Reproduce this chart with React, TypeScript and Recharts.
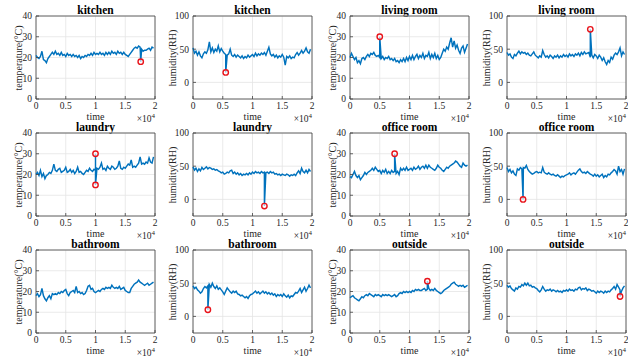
import { ComposedChart, Line, XAxis, YAxis, CartesianGrid, ReferenceArea, ReferenceDot } from 'recharts';

// sample readings, one every 250 time steps
const kitchenTemp = [21, 20, 19.5, 20.5, 23, 19, 18.5, 17.5, 19.5, 20.5, 21.5, 22.5, 21.5, 23, 21.5, 22, 21, 22.5, 21, 21.5, 20.5, 22, 21, 21.5, 20.5, 21.5, 20.5, 21, 20, 21, 19.5, 20.5, 20, 21, 20.5, 21.5, 21, 22, 21, 22.5, 21.5, 22, 21.5, 22.5, 21.5, 22, 21, 22.5, 21.5, 22.5, 21.5, 23, 22, 22.5, 21.5, 23, 22, 22.5, 21.5, 22.5, 21.5, 21, 20.5, 21.5, 22.5, 23.5, 24.5, 25, 24.5, 25.5, 25, 24, 23, 23.5, 23.5, 24, 24.5, 23.5, 25, 24.5];
const kitchenHum = [52, 44, 47, 41, 46, 40, 37, 43, 46, 44, 49, 61, 46, 52, 45, 50, 47, 55, 46, 51, 47, 44, 42, 41, 43, 50, 41, 39, 42, 38, 41, 39, 37, 40, 36, 39, 37, 41, 38, 40, 42, 39, 44, 40, 43, 41, 44, 42, 45, 41, 47, 53, 43, 40, 42, 38, 41, 37, 40, 38, 42, 38, 26, 39, 37, 40, 36, 38, 37, 42, 45, 41, 44, 48, 44, 47, 52, 46, 44, 50];
const livingTemp = [20, 22, 20.5, 19, 20, 17.5, 18.5, 17, 19.5, 20, 19, 20.5, 21.5, 20.5, 22, 21.5, 22.5, 21, 20.5, 21, 20, 19.5, 20.5, 19, 20, 19.5, 20.5, 19, 19.5, 18.5, 19.5, 18, 18.5, 17.5, 19, 18, 19.5, 18, 20, 18.5, 20.5, 19, 21, 19, 20.5, 21.5, 19.5, 21, 20, 22, 19.5, 21, 20.5, 22.5, 19.5, 21.5, 20, 22, 19.5, 21, 19, 20, 22, 24, 23, 25, 24, 27, 29.5, 25, 28, 24.5, 26, 23.5, 22, 24.5, 25.5, 22.5, 24.5, 26.5];
const livingHum = [45, 41, 43, 38, 36, 42, 40, 44, 47, 43, 46, 44, 45, 42, 44, 41, 40, 43, 46, 41, 39, 37, 40, 38, 48, 42, 38, 40, 37, 41, 39, 36, 40, 38, 41, 37, 40, 38, 42, 39, 41, 38, 43, 40, 42, 39, 43, 41, 44, 40, 45, 42, 46, 43, 44, 45, 38, 41, 37, 42, 40, 36, 41, 38, 33, 37, 31, 27, 33, 30, 38, 35, 41, 44, 42, 46, 52, 40, 46, 42];
const laundryTemp = [20, 21, 19.5, 22, 19, 20.5, 18, 19.5, 20, 21, 20.5, 22, 25, 22, 21.5, 22.5, 23, 21, 21.5, 22, 23.5, 21, 21.5, 22.5, 21, 22, 20.5, 21.5, 23.5, 21, 21.5, 20.5, 20, 21, 22, 21.5, 23, 22, 21.5, 22.5, 22, 23, 22.5, 23.5, 25.5, 22.5, 23, 22, 24, 23, 22.5, 24, 23.5, 22.5, 23, 24, 26.5, 23, 22.5, 23.5, 23, 24, 25, 24.5, 27, 23.5, 24, 23.5, 24.5, 25.5, 28.5, 25, 25.5, 25, 26, 25.5, 28, 26, 25.5, 28.5];
const laundryHum = [49, 44, 47, 42, 46, 43, 48, 45, 47, 49, 46, 48, 47, 45, 46, 44, 45, 43, 42, 40, 41, 38, 39, 41, 40, 43, 44, 39, 41, 38, 40, 37, 39, 36, 38, 37, 39, 37, 40, 38, 41, 39, 42, 40, 41, 39, 42, 40, 41, 40, 41, 39, 42, 40, 41, 38, 39, 37, 38, 36, 38, 37, 36, 38, 37, 35, 37, 36, 38, 36, 40, 43, 39, 47, 42, 40, 44, 40, 45, 42];
const officeTemp = [19, 18.5, 20, 21.5, 19.5, 18.5, 19.5, 17.5, 18.5, 19.5, 21, 20, 21, 21.5, 22, 23, 22, 23.5, 22.5, 21.5, 22, 20.5, 22, 21, 22.5, 20.5, 21.5, 20.5, 22, 21, 21.5, 20.5, 21.5, 20, 23, 22, 23, 22, 23.5, 22, 22.5, 23, 22, 23.5, 22.5, 23, 24, 22.5, 23.5, 24, 23, 24.5, 23, 24.5, 23.5, 23, 22.5, 22, 23, 24.5, 23.5, 23, 22, 21.5, 22.5, 23.5, 23, 24, 24.5, 25, 25.5, 26.5, 26, 25, 24, 23.5, 25.5, 24.5, 24, 24.5];
const officeHum = [48, 42, 45, 40, 43, 38, 36, 46, 44, 48, 46, 48, 47, 51, 45, 42, 40, 38, 39, 41, 42, 40, 41, 40, 48, 41, 39, 38, 40, 38, 37, 38, 36, 35, 37, 35, 33, 35, 34, 36, 37, 38, 40, 37, 39, 40, 38, 41, 44, 46, 42, 40, 41, 39, 42, 40, 38, 37, 35, 38, 35, 37, 34, 36, 38, 33, 36, 34, 38, 37, 40, 42, 45, 43, 38, 50, 42, 45, 38, 46];
const bathTemp = [18, 19, 17.5, 18.5, 21.5, 18, 16.5, 15.5, 17, 18, 16.5, 19, 18.5, 19, 18.5, 19.5, 19, 20, 19.5, 20.5, 21, 19, 18, 19.5, 20, 20.5, 19.5, 22.5, 19.5, 20, 19, 19.5, 18.5, 19, 20.5, 22.5, 23, 21, 21.5, 20, 19.5, 20, 20.5, 20, 21, 21.5, 21, 22, 21.5, 22, 21.5, 23, 22, 21.5, 22, 21.5, 22.5, 21, 21.5, 22, 20.5, 20, 19.5, 19.5, 21.5, 22.5, 23.5, 24, 24.5, 25.5, 24.5, 24, 23.5, 23, 23.5, 24, 23, 23.5, 24, 24.5];
const bathHum = [46, 42, 44, 40, 38, 35, 37, 42, 45, 43, 46, 48, 44, 50, 45, 42, 46, 41, 43, 40, 37, 33, 38, 43, 40, 37, 35, 38, 36, 38, 34, 33, 31, 32, 30, 28, 30, 27, 31, 33, 34, 36, 38, 35, 37, 34, 36, 38, 35, 37, 34, 36, 33, 35, 32, 34, 30, 33, 31, 33, 30, 34, 31, 29, 32, 28, 31, 30, 33, 36, 35, 38, 42, 36, 40, 44, 38, 42, 47, 43];
const outsideTemp = [17, 17.5, 18, 17, 16.5, 16, 15.5, 16.5, 17.5, 17, 18, 18.5, 18, 19, 18.5, 18, 17.5, 18.5, 18, 18.5, 18, 17.5, 18.5, 18, 18.5, 18, 18.5, 18, 17.5, 18, 18.5, 17.5, 18, 19, 19.5, 19, 20, 19.5, 20, 19.5, 20, 19.5, 20.5, 20, 21, 20.5, 21, 20.5, 20.5, 21, 21.5, 20.5, 21, 21.5, 20.5, 21, 20.5, 21.5, 20.5, 20, 19.5, 19, 19.5, 20.5, 21, 21.5, 22, 22.5, 23.5, 24, 24.5, 23.5, 23, 22.5, 23, 22.5, 23, 22, 22.5, 23];
const outsideHum = [47, 44, 46, 42, 40, 38, 43, 41, 45, 44, 48, 46, 50, 47, 50, 46, 47, 44, 45, 43, 42, 39, 37, 40, 45, 41, 38, 40, 39, 41, 38, 40, 39, 37, 39, 37, 38, 36, 39, 38, 40, 38, 41, 39, 40, 38, 41, 40, 43, 44, 40, 42, 41, 43, 39, 41, 40, 38, 39, 37, 35, 38, 36, 38, 37, 35, 38, 36, 38, 37, 40, 42, 45, 41, 48, 44, 40, 38, 43, 46];

// injected anomalies: [time, value]
const kitchenTempOut = [[17600, 18]];
const kitchenHumOut = [[5500, 15]];
const livingTempOut = [[5000, 30]];
const livingHumOut = [[14000, 80]];
const laundryTempOut = [[10000, 30], [10000, 15]];
const laundryHumOut = [[12000, -10]];
const officeTempOut = [[7500, 30]];
const officeHumOut = [[2700, 0]];
const bathTempOut: number[][] = [];
const bathHumOut = [[2500, 10]];
const outsideTempOut = [[13000, 25]];
const outsideHumOut = [[19000, 30]];

const xTicks = [0, 5000, 10000, 15000, 20000];
const tempTicks = [0, 10, 20, 30, 40];
const humTicks = [0, 50, 100];

const STEP = 250;
const FONT = '"Liberation Serif", "Times New Roman", serif';
const PW = 119;
const PH = 83;
const ML = 40;
const MT = 4;
const MB = 20;
const MR = 4;

function buildSeries(values: number[], outliers: number[][]) {
  const rows: { t: number; v: number }[] = [];
  const pending = [...outliers];
  values.forEach((v, i) => {
    const t = i * STEP;
    rows.push({ t, v });
    while (pending.length && pending[0][0] >= t && pending[0][0] < t + STEP) {
      const [ot, ov] = pending.shift()!;
      rows.push({ t: ot, v: ov });
    }
  });
  return rows;
}

interface PanelProps {
  title: string;
  kind: 'temp' | 'hum';
  values: number[];
  outliers: number[][];
  left: number;
  top: number;
}

function Panel({ title, kind, values, outliers, left, top }: PanelProps) {
  const temp = kind === 'temp';
  const domain: [number, number] = temp ? [0, 40] : [-25, 100];
  const data = buildSeries(values, outliers);
  const textColor = '#262626';
  return (
    <>
      <div
        style={{
          position: 'absolute',
          left,
          width: PW,
          top: top - 11.5,
          textAlign: 'center',
          fontFamily: FONT,
          fontWeight: 'bold',
          fontSize: 11.5,
          lineHeight: '11px',
          color: '#000',
        }}
      >
        {title}
      </div>
      <div
        style={{
          position: 'absolute',
          left: left - (temp ? 18 : 21.5),
          top: top + PH / 2,
          transform: 'translate(-50%, -50%) rotate(-90deg)',
          whiteSpace: 'nowrap',
          fontFamily: FONT,
          fontSize: 10,
          color: textColor,
        }}
      >
        {temp ? 'temperature(°C)' : 'humidity(RH)'}
      </div>
      <div style={{ position: 'absolute', left: left - ML, top: top - MT }}>
        <ComposedChart
          width={PW + ML + MR}
          height={PH + MT + MB}
          data={data}
          margin={{ top: MT, right: MR, left: 0, bottom: 0 }}
        >
          <CartesianGrid stroke="#e4e4e4" strokeWidth={0.8} />
          <XAxis
            dataKey="t"
            type="number"
            domain={[0, 20000]}
            ticks={xTicks}
            interval={0}
            height={MB}
            tickFormatter={(v) => String(v / 10000)}
            tickSize={-3}
            tickMargin={6}
            axisLine={false}
            tickLine={{ stroke: '#404040', strokeWidth: 0.8 }}
            tick={{ fontSize: 9.5, fill: textColor, fontFamily: FONT }}
          />
          <YAxis
            type="number"
            domain={domain}
            ticks={temp ? tempTicks : humTicks}
            interval={0}
            width={ML}
            tickSize={-3}
            tickMargin={7}
            axisLine={false}
            tickLine={{ stroke: '#404040', strokeWidth: 0.8 }}
            tick={{ fontSize: 9.5, fill: textColor, fontFamily: FONT }}
            allowDataOverflow
          />
          <ReferenceArea
            x1={0}
            x2={20000}
            y1={domain[0]}
            y2={domain[1]}
            fill="none"
            stroke="#404040"
            strokeWidth={0.8}
          />
          <Line
            type="linear"
            dataKey="v"
            stroke="#0072BD"
            strokeWidth={1.45}
            dot={false}
            isAnimationActive={false}
          />
          {outliers.map(([t, v], i) => (
            <ReferenceDot
              key={i}
              x={t}
              y={v}
              r={2.7}
              fill="#fff"
              fillOpacity={0.6}
              stroke="#e8141b"
              strokeWidth={1.4}
            />
          ))}
        </ComposedChart>
      </div>
      <div
        style={{
          position: 'absolute',
          left,
          width: PW,
          top: top + PH + 13,
          textAlign: 'center',
          fontFamily: FONT,
          fontSize: 10,
          lineHeight: '10px',
          color: textColor,
        }}
      >
        time
      </div>
      <div
        style={{
          position: 'absolute',
          left: left + PW - 40,
          width: 40,
          top: top + PH + 15,
          textAlign: 'right',
          fontFamily: FONT,
          fontSize: 9.5,
          lineHeight: '10px',
          color: textColor,
        }}
      >
        ×10<sup style={{ fontSize: 7, verticalAlign: 4, lineHeight: 0 }}>4</sup>
      </div>
    </>
  );
}

const cols = [36, 193, 350, 507];
const rows = [16, 133, 250];

export default function App() {
  const panels: Omit<PanelProps, 'left' | 'top'>[] = [
    { title: 'kitchen', kind: 'temp', values: kitchenTemp, outliers: kitchenTempOut },
    { title: 'kitchen', kind: 'hum', values: kitchenHum, outliers: kitchenHumOut },
    { title: 'living room', kind: 'temp', values: livingTemp, outliers: livingTempOut },
    { title: 'living room', kind: 'hum', values: livingHum, outliers: livingHumOut },
    { title: 'laundry', kind: 'temp', values: laundryTemp, outliers: laundryTempOut },
    { title: 'laundry', kind: 'hum', values: laundryHum, outliers: laundryHumOut },
    { title: 'office room', kind: 'temp', values: officeTemp, outliers: officeTempOut },
    { title: 'office room', kind: 'hum', values: officeHum, outliers: officeHumOut },
    { title: 'bathroom', kind: 'temp', values: bathTemp, outliers: bathTempOut },
    { title: 'bathroom', kind: 'hum', values: bathHum, outliers: bathHumOut },
    { title: 'outside', kind: 'temp', values: outsideTemp, outliers: outsideTempOut },
    { title: 'outside', kind: 'hum', values: outsideHum, outliers: outsideHumOut },
  ];
  return (
    <div style={{ position: 'absolute', left: 0, top: 0, width: 628, height: 362, background: '#fff', overflow: 'hidden' }}>
      {panels.map((p, i) => (
        <Panel key={i} {...p} left={cols[i % 4]} top={rows[Math.floor(i / 4)]} />
      ))}
    </div>
  );
}
